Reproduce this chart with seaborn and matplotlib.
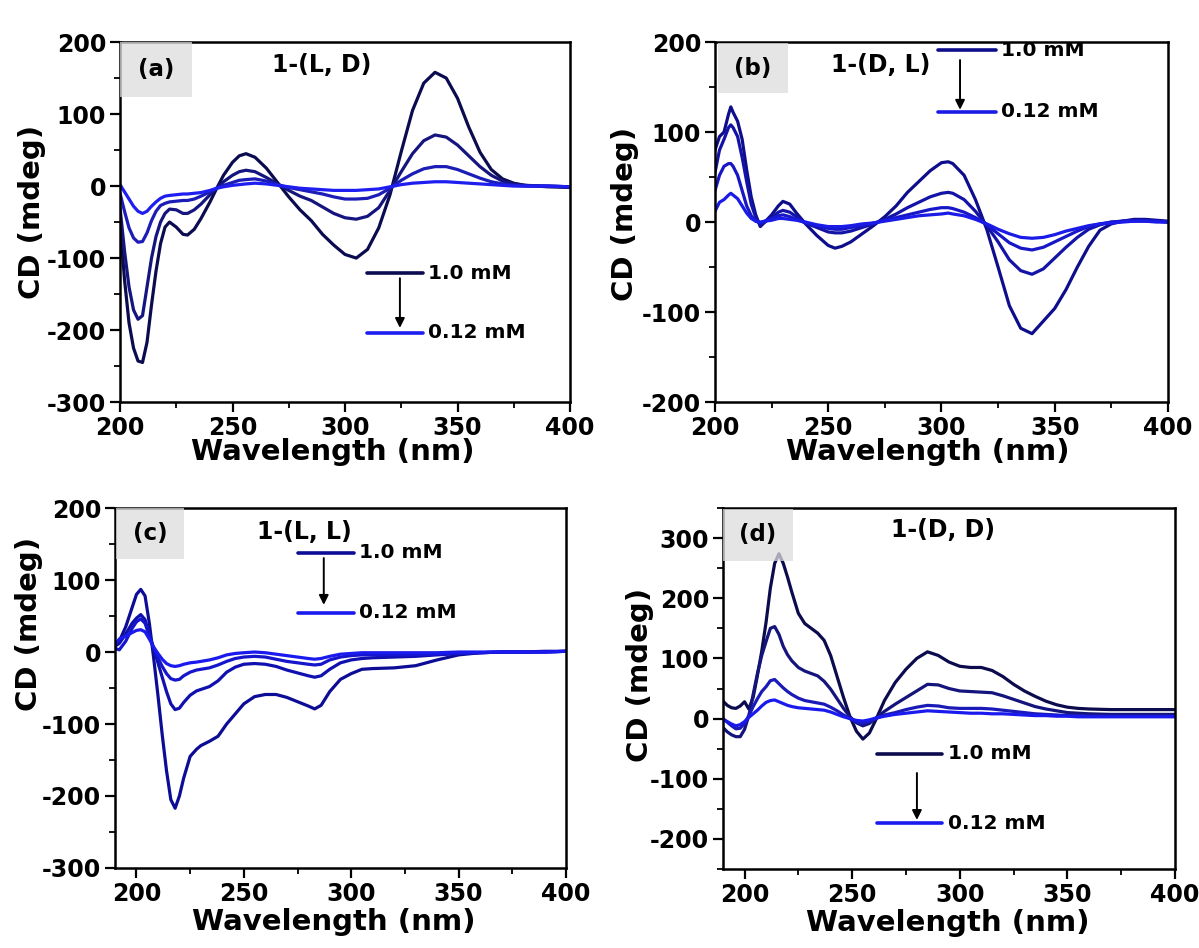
import numpy as np
import pandas as pd
import matplotlib
matplotlib.use("Agg")
import matplotlib.pyplot as plt
from matplotlib.patches import Rectangle
from matplotlib.ticker import MultipleLocator
import seaborn as sns

# ---------------- data ----------------
CONC = ["1.0 mM", "0.5 mM", "0.25 mM", "0.12 mM"]

# (a) 1-(L, D)
A_WL = [200, 202, 204, 206, 208, 210, 212, 214, 216, 218, 220, 222, 225, 228, 230, 233, 236,
        240, 243, 246, 250, 253, 256, 260, 265, 270, 275, 280, 285, 290, 295, 300, 305, 310,
        315, 320, 325, 330, 335, 340, 345, 350, 355, 360, 365, 370, 375, 380, 390, 400]
A_1 = [-50, -130, -190, -225, -243, -245, -217, -165, -118, -80, -57, -50, -57, -67, -68, -60, -45,
       -22, -3, 15, 33, 42, 45, 40, 25, 5, -15, -33, -48, -67, -82, -95, -100, -88,
       -58, -12, 48, 105, 143, 158, 150, 122, 82, 47, 23, 10, 4, 1, -1, -2]
A_2 = [-30, -90, -140, -172, -185, -180, -140, -100, -70, -50, -38, -32, -33, -38, -38, -33, -25,
       -12, -3, 6, 15, 20, 22, 20, 12, 3, -6, -14, -20, -29, -38, -44, -46, -42,
       -30, -6, 20, 45, 63, 71, 68, 57, 42, 27, 15, 7, 3, 1, 0, -1]
A_3 = [-10, -35, -58, -72, -78, -77, -65, -48, -35, -27, -24, -22, -21, -20, -20, -18, -14,
       -8, -3, 1, 5, 8, 9, 10, 7, 2, -2, -5, -8, -11, -15, -18, -18, -17,
       -12, -3, 8, 17, 24, 27, 27, 23, 17, 11, 6, 3, 1, 0, 0, -1]
A_4 = [2, -8, -18, -28, -35, -38, -35, -28, -22, -17, -14, -13, -12, -11, -11, -10, -9,
       -6, -3, -1, 1, 2, 3, 4, 3, 1, -1, -3, -4, -5, -6, -6, -6, -5,
       -4, -1, 2, 4, 5, 6, 6, 5, 4, 3, 2, 1, 0, 0, 0, -1]

# (b) 1-(D, L)
B_WL = [200, 202, 204, 206, 207, 208, 210, 212, 214, 216, 218, 220, 222, 225, 228, 230, 233, 236,
        240, 245, 250, 253, 256, 260, 265, 270, 275, 280, 285, 290, 295, 300, 303, 305, 310,
        315, 320, 325, 330, 335, 340, 345, 350, 355, 360, 365, 370, 375, 380, 385, 390, 395, 400]
B_1 = [80, 95, 100, 120, 128, 122, 112, 92, 58, 28, 8, -5, 0, 8, 18, 23, 20, 10,
       -2, -15, -26, -29, -27, -22, -13, -4, 6, 18, 33, 45, 57, 66, 67, 65, 52,
       25, -8, -50, -93, -118, -124, -110, -96, -75, -50, -27, -9, -2, 1, 3, 3, 2, 1]
B_2 = [55, 80, 92, 105, 108, 105, 95, 72, 45, 20, 5, -3, 0, 5, 11, 13, 11, 6,
       -1, -6, -11, -12, -12, -10, -6, -2, 3, 9, 16, 22, 28, 32, 33, 32, 25,
       12, -4, -22, -42, -54, -58, -52, -40, -28, -17, -8, -3, 0, 1, 2, 2, 1, 0]
B_3 = [35, 52, 62, 65, 65, 62, 52, 35, 18, 7, 1, -1, 1, 4, 7, 8, 6, 3,
       -1, -4, -7, -8, -8, -6, -4, -1, 2, 5, 8, 11, 14, 16, 16, 15, 11,
       5, -3, -13, -23, -29, -31, -28, -22, -16, -10, -5, -2, 0, 1, 1, 1, 1, 0]
B_4 = [12, 22, 25, 30, 32, 30, 26, 18, 10, 4, 1, 0, 1, 2, 4, 4, 3, 2,
       0, -3, -5, -5, -5, -4, -2, -1, 1, 3, 5, 7, 8, 9, 10, 9, 7,
       3, -2, -8, -13, -17, -18, -17, -14, -10, -7, -4, -2, -1, 0, 1, 1, 0, 0]

# (c) 1-(L, L)
C_WL = [190, 192, 195, 198, 200, 202, 204, 206, 208, 210, 212, 214, 216, 218, 220, 222, 225,
        228, 230, 234, 238, 242, 246, 250, 255, 260, 265, 270, 275, 280, 283, 286, 290, 295,
        300, 305, 310, 320, 330, 340, 350, 360, 370, 380, 390, 400]
C_1 = [10, 15, 35, 62, 80, 87, 78, 40, -8, -60, -115, -165, -205, -217, -200, -175, -145,
       -135, -130, -124, -117, -100, -86, -72, -62, -59, -59, -63, -69, -75, -79, -74, -55, -38,
       -30, -24, -23, -22, -19, -11, -4, -1, 0, 0, 1, 1]
C_2 = [8, 12, 25, 40, 47, 52, 45, 25, 5, -15, -35, -55, -72, -80, -78, -70, -60,
       -54, -52, -48, -40, -28, -21, -17, -16, -17, -20, -25, -29, -33, -35, -33, -24, -15,
       -11, -9, -8, -7, -6, -4, -2, -1, 0, 0, 0, 1]
C_3 = [5, 3, 15, 33, 42, 46, 40, 22, 5, -8, -20, -30, -37, -39, -38, -33, -28,
       -25, -24, -22, -18, -13, -9, -7, -6, -7, -10, -13, -15, -17, -18, -17, -11, -7,
       -5, -4, -4, -4, -4, -3, -2, -1, 0, 0, 0, 1]
C_4 = [10, 18, 22, 27, 30, 31, 28, 18, 7, -2, -10, -16, -19, -20, -19, -17, -15,
       -14, -13, -11, -8, -4, -2, -1, 0, -1, -3, -5, -7, -9, -10, -9, -6, -3,
       -2, -1, -1, -1, -1, -1, 0, 0, 0, 0, 0, 1]

# (d) 1-(D, D)
D_WL = [190, 192, 194, 196, 198, 200, 202, 204, 206, 208, 210, 212, 214, 216, 218, 220, 222,
        225, 228, 231, 234, 237, 240, 243, 246, 249, 252, 255, 258, 261, 265, 270, 275, 280,
        285, 290, 295, 300, 305, 310, 315, 320, 325, 330, 335, 340, 345, 350, 355, 360, 370,
        380, 390, 400]
D_1 = [29, 22, 18, 17, 21, 28, 16, 35, 72, 112, 160, 217, 258, 274, 258, 235, 210,
       175, 158, 150, 142, 130, 105, 70, 35, 3, -21, -34, -24, -2, 30, 60, 82, 100,
       111, 105, 94, 87, 85, 85, 80, 70, 57, 46, 37, 29, 23, 19, 17, 16, 15,
       15, 15, 15]
D_2 = [-15, -22, -27, -30, -30, -18, 5, 40, 75, 105, 128, 150, 153, 140, 120, 106, 96,
       85, 79, 75, 71, 62, 49, 33, 17, 3, -7, -12, -8, 1, 12, 24, 35, 46,
       57, 56, 50, 46, 45, 44, 43, 38, 32, 26, 20, 16, 13, 10, 9, 8, 7,
       7, 7, 7]
D_3 = [0, -6, -12, -17, -16, -8, 5, 20, 33, 45, 53, 63, 65, 58, 51, 45, 40,
       34, 30, 28, 26, 24, 19, 13, 6, 0, -6, -8, -5, 0, 6, 10, 15, 19,
       22, 21, 18, 17, 17, 17, 16, 14, 12, 10, 8, 7, 6, 5, 5, 4, 4,
       4, 4, 4]
D_4 = [-1, -5, -9, -12, -10, -5, 2, 8, 14, 21, 27, 30, 31, 28, 25, 22, 20,
       18, 17, 16, 15, 14, 11, 7, 3, 0, -3, -4, -2, 1, 4, 7, 9, 11,
       13, 12, 11, 10, 9, 9, 8, 8, 7, 6, 5, 5, 4, 4, 3, 3, 3,
       3, 3, 3]

PANELS = [
    dict(tag="(a)", name="1-(L, D)", wl=A_WL, ys=[A_1, A_2, A_3, A_4],
         xlim=(200, 400), ylim=(-300, 200), yticks=[-300, -200, -100, 0, 100, 200],
         colors=["#0b0b4f", "#15157f", "#1c1cb6", "#1e1ef0"]),
    dict(tag="(b)", name="1-(D, L)", wl=B_WL, ys=[B_1, B_2, B_3, B_4],
         xlim=(200, 400), ylim=(-200, 200), yticks=[-200, -100, 0, 100, 200],
         colors=["#0e0e8c", "#1313a8", "#1717c8", "#1b1be8"]),
    dict(tag="(c)", name="1-(L, L)", wl=C_WL, ys=[C_1, C_2, C_3, C_4],
         xlim=(190, 400), ylim=(-300, 200), yticks=[-300, -200, -100, 0, 100, 200],
         colors=["#0c0c96", "#1010b0", "#1515cc", "#1a1aee"]),
    dict(tag="(d)", name="1-(D, D)", wl=D_WL, ys=[D_1, D_2, D_3, D_4],
         xlim=(190, 400), ylim=(-250, 350), yticks=[-200, -100, 0, 100, 200, 300],
         colors=["#0b0b4d", "#14147c", "#1a1ab8", "#1a1aef"]),
]

# ---------------- style ----------------
sns.set_theme(style="ticks")
plt.rcParams["font.family"] = ["DejaVu Sans"]
plt.rcParams["font.weight"] = "bold"
plt.rcParams["axes.labelweight"] = "bold"
plt.rcParams["axes.unicode_minus"] = False
for key in ("text.color", "axes.labelcolor", "xtick.color", "ytick.color",
            "xtick.labelcolor", "ytick.labelcolor", "axes.edgecolor"):
    plt.rcParams[key] = "black"

fig = plt.figure(figsize=(11.99, 9.48), dpi=100)
fig.patch.set_facecolor("white")

axes_rects = [
    [0.1001, 0.5759, 0.3753, 0.3797],
    [0.5963, 0.5759, 0.3778, 0.3797],
    [0.0959, 0.0844, 0.3761, 0.3797],
    [0.6030, 0.0833, 0.3770, 0.3808],
]
# key placement (axes fraction): line x0, x1, y_top, y_bottom, arrow x, arrow y0, arrow y1
legend_pos = [
    (0.549, 0.673, 0.358, 0.192, 0.622, 0.344, 0.206),
    (0.492, 0.620, 0.978, 0.806, 0.541, 0.950, 0.812),
    (0.406, 0.530, 0.876, 0.709, 0.463, 0.861, 0.731),
    (0.341, 0.485, 0.320, 0.127, 0.429, 0.266, 0.136),
]
title_pos = [(0.449, 0.936), (0.366, 0.936), (0.421, 0.934), (0.487, 0.939)]
tag_box = [(0.0, 0.847, 0.159, 0.153), (0.007, 0.858, 0.154, 0.139),
           (0.003, 0.858, 0.151, 0.142), (0.0, 0.854, 0.155, 0.143)]
ylabel_xy = [(-0.165, 0.528), (-0.168, 0.522), (-0.160, 0.678), (-0.152, 0.537)]
xlabel_xy = [(0.473, -0.100), (0.470, -0.100), (0.485, -0.110), (0.498, -0.112)]

for p, rect, lp, tp, tb, yl, xl in zip(PANELS, axes_rects, legend_pos, title_pos,
                                        tag_box, ylabel_xy, xlabel_xy):
    ax = fig.add_axes(rect)
    frames = []
    for conc, y in zip(CONC, p["ys"]):
        frames.append(pd.DataFrame({"wl": p["wl"], "cd": y, "conc": conc}))
    df = pd.concat(frames, ignore_index=True)
    sns.lineplot(data=df, x="wl", y="cd", hue="conc", hue_order=CONC,
                 palette=p["colors"], estimator=None, sort=False, legend=False,
                 linewidth=2.3, ax=ax, zorder=2)

    ax.set_xlim(*p["xlim"])
    ax.set_ylim(*p["ylim"])
    ax.set_xticks([200, 250, 300, 350, 400])
    ax.set_yticks(p["yticks"])
    ax.xaxis.set_minor_locator(MultipleLocator(25))
    ax.yaxis.set_minor_locator(MultipleLocator(50))
    ax.tick_params(axis="both", which="major", direction="out", length=7, width=1.6,
                   labelsize=17, pad=3, top=False, right=False, colors="black")
    ax.tick_params(axis="both", which="minor", direction="out", length=4, width=1.3,
                   top=False, right=False, colors="black")
    for lab in ax.get_xticklabels() + ax.get_yticklabels():
        lab.set_fontweight("bold")
    for s in ax.spines.values():
        s.set_linewidth(1.8)
        s.set_color("black")
        s.set_visible(True)

    ax.set_xlabel("Wavelength (nm)", fontsize=21, fontweight="bold", color="black")
    ax.set_ylabel("CD (mdeg)", fontsize=21, fontweight="bold", color="black")
    ax.xaxis.set_label_coords(*xl)
    ax.yaxis.set_label_coords(*yl)

    # panel tag on a grey patch
    ax.add_patch(Rectangle((tb[0], tb[1]), tb[2], tb[3], transform=ax.transAxes,
                           facecolor="#dddddd", edgecolor="none", alpha=0.75,
                           zorder=3, clip_on=False))
    ax.text(tb[0] + tb[2] / 2, tb[1] + tb[3] * 0.5, p["tag"], transform=ax.transAxes,
            ha="center", va="center", fontsize=16.5, fontweight="bold", zorder=4)
    ax.text(tp[0], tp[1], p["name"], transform=ax.transAxes, ha="center", va="center",
            fontsize=17, fontweight="bold", zorder=4)

    # concentration key
    x0, x1, yt, yb, xa, ya0, ya1 = lp
    ax.plot([x0, x1], [yt, yt], color=p["colors"][0], lw=2.6, transform=ax.transAxes,
            clip_on=False, zorder=4)
    ax.plot([x0, x1], [yb, yb], color=p["colors"][-1], lw=2.6, transform=ax.transAxes,
            clip_on=False, zorder=4)
    ax.text(x1 + 0.012, yt, CONC[0], transform=ax.transAxes, ha="left", va="center",
            fontsize=14.5, fontweight="bold", zorder=4)
    ax.text(x1 + 0.012, yb, CONC[-1], transform=ax.transAxes, ha="left", va="center",
            fontsize=14.5, fontweight="bold", zorder=4)
    ax.annotate("", xy=(xa, ya1), xytext=(xa, ya0), xycoords="axes fraction",
                textcoords="axes fraction",
                arrowprops=dict(arrowstyle="-|>", color="black", lw=1.4,
                                mutation_scale=14, shrinkA=0, shrinkB=0), zorder=4)

fig.savefig("out.png", dpi=100, facecolor="white")
